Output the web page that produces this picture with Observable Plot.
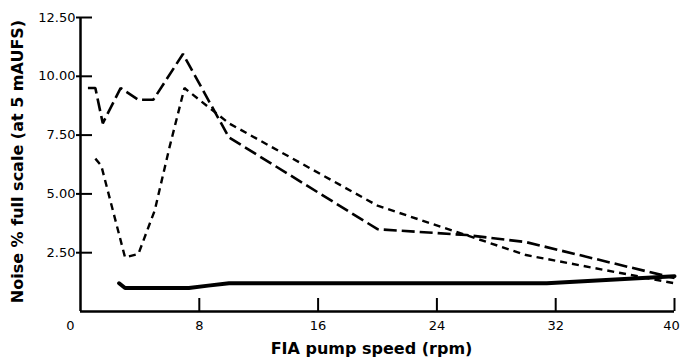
<!DOCTYPE html>
<html><head><meta charset="utf-8">
<script src="https://cdn.jsdelivr.net/npm/d3@7"></script>
<script src="https://cdn.jsdelivr.net/npm/@observablehq/plot@0.6"></script>
<style>body{margin:0;background:#fff;} svg{overflow:visible}</style>
</head><body><div id="chart"></div>
<script>
// Long-dashed series
const longX = [0.5, 1, 1.5, 2.7, 3.9, 4.9, 6.9, 10, 20, 26, 30, 40];
const longY = [9.5, 9.5, 8.0, 9.5, 9.0, 9.0, 10.95, 7.4, 3.5, 3.25, 2.95, 1.42];
// Short-dashed series
const shortX = [1, 1.4, 3, 3.9, 5, 6, 7, 10, 20, 30, 40];
const shortY = [6.5, 6.2, 2.3, 2.45, 4.3, 7.0, 9.5, 8.0, 4.5, 2.4, 1.2];
// Solid series
const solidX = [2.6, 3.0, 7.3, 8.6, 10, 31.4, 40];
const solidY = [1.2, 1.0, 1.0, 1.1, 1.2, 1.2, 1.5];
// Ticks
const xTicks = [8, 16, 24, 32];
const xLastTick = [40];
const yTicks = [2.5, 5, 7.5, 10, 12.5];
const xLabel = "FIA pump speed (rpm)";
const yLabel = "Noise % full scale (at 5 mAUFS)";

const toRows = (xs, ys) => xs.map((x, i) => ({x, y: ys[i]}));
const longData = toRows(longX, longY);
const shortData = toRows(shortX, shortY);
const solidData = toRows(solidX, solidY);

const font = "DejaVu Sans";
const chart = Plot.plot({
  width: 681,
  height: 362,
  marginLeft: 80,
  marginRight: 7,
  marginTop: 17,
  marginBottom: 51,
  style: {fontFamily: font, fontSize: "13px", color: "black", background: "white"},
  x: {domain: [0, 40]},
  y: {domain: [0, 12.5]},
  marks: [
    Plot.axisY({ticks: yTicks, tickFormat: d => d.toFixed(2), tickSize: 4, tickPadding: 1, strokeWidth: 2, label: null, fontSize: 13}),
    Plot.axisY({ticks: yTicks, tickSize: -12, text: null, strokeWidth: 2, label: null}),
    Plot.axisX({ticks: [...xTicks, ...xLastTick], tickSize: -13, text: null, strokeWidth: 2, label: null}),
    Plot.axisX({ticks: xTicks, tickSize: 0, tickPadding: 9, label: null, fontSize: 13}),
    Plot.axisX({ticks: xLastTick, tickSize: 0, tickPadding: 9, dx: -3, label: null, fontSize: 13}),
    Plot.axisX({ticks: [0], tickSize: 0, tickPadding: 9, dx: -10, label: null, fontSize: 13}),
    Plot.ruleX([0], {strokeWidth: 2.5}),
    Plot.ruleY([0], {strokeWidth: 2.5}),
    Plot.line(longData, {x: "x", y: "y", stroke: "black", strokeWidth: 2.6, strokeDasharray: "13,5", strokeLinejoin: "miter", strokeLinecap: "butt"}),
    Plot.line(shortData, {x: "x", y: "y", stroke: "black", strokeWidth: 2.4, strokeDasharray: "7,5", strokeLinejoin: "miter", strokeLinecap: "butt"}),
    Plot.line(solidData, {x: "x", y: "y", stroke: "black", strokeWidth: 4, strokeLinecap: "round"}),
    Plot.text([yLabel], {frameAnchor: "left", textAnchor: "middle", rotate: -90, dx: -63, dy: -3, fontSize: 16, fontWeight: "bold", fill: "black", text: d => d}),
    Plot.text([xLabel], {frameAnchor: "bottom", dx: -6, dy: 42, fontSize: 16, fontWeight: "bold", fill: "black", text: d => d})
  ]
});
document.getElementById("chart").appendChild(chart);
</script>
</body></html>
